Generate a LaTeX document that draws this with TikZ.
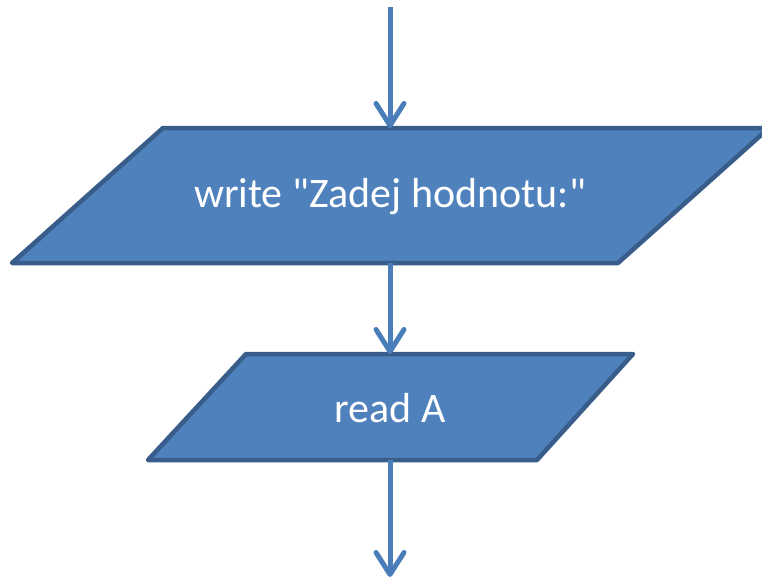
\documentclass[tikz,border=0pt]{standalone}
\usepackage{fontspec}
\setmainfont{Carlito}[Ligatures=TeXOff]
\usetikzlibrary{arrows.meta}
\definecolor{shapefill}{HTML}{4F81BD}
\definecolor{shapeborder}{HTML}{385D8A}
\definecolor{arrowcol}{HTML}{4A7EBB}
\tikzset{
  iobox/.style={fill=shapefill, draw=shapeborder, line width=4.5pt, line join=round},
  flow/.style={draw=arrowcol, line width=5pt,
    -{Straight Barb[length=22pt,width=28pt,round]}},
  label/.style={text=white, font=\fontsize{42pt}{50pt}\selectfont, inner sep=0pt}
}
\begin{document}
\begin{tikzpicture}[x=1pt,y=-1pt]
\useasboundingbox (0,0) rectangle (762,578);
\clip (0,0) rectangle (762,578);
% write box
\draw[iobox] (163,128) -- (769,128) -- (618,263) -- (12,263) -- cycle;
\node[label] (write) at (390,197) {write "Zadej hodnotu:"};
\coordinate (writetop) at (390,128);
\coordinate (writebot) at (390,263);
% read box
\draw[iobox] (246,354) -- (633,354) -- (537,460) -- (148,460) -- cycle;
\node[label] (read) at (390,408) {read A};
\coordinate (readtop) at (390,354);
\coordinate (readbot) at (390,460);
% free ends
\coordinate (start) at (390,7);
\coordinate (end) at (390,577);
% connectors
\draw[flow] (start) -- (writetop);
\draw[flow] (writebot) -- (readtop);
\draw[flow] (readbot) -- (end);
\end{tikzpicture}
\end{document}
